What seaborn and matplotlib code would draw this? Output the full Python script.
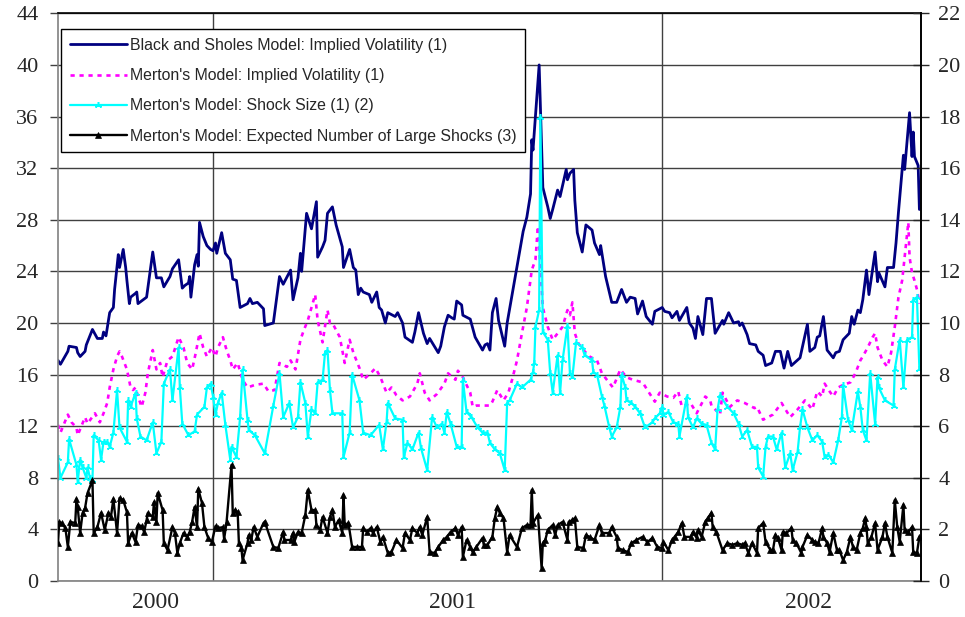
import pandas as pd
import matplotlib
matplotlib.use("Agg")
import matplotlib.pyplot as plt
import matplotlib.dates as mdates
import matplotlib.ticker as mticker
import matplotlib.transforms as mtransforms
import seaborn as sns

START = pd.Timestamp("2000-08-28")

# (days after START, value)
bs_vol = [
    (0, 17.1), (2, 16.8), (8, 17.8), (9, 18.2), (15, 18.1), (16, 17.7), (18, 17.4), (22, 17.8), (23, 18.3),
    (28, 19.5), (32, 18.8), (36, 18.8), (37, 19.3), (39, 19.0), (42, 20.8), (45, 21.2), (46, 22.6), (49, 25.3),
    (50, 24.3), (53, 25.7), (55, 24.3), (56, 23.3), (58, 21.5), (59, 22.0), (63, 22.3), (64, 22.4), (65, 21.5),
    (72, 22.0), (77, 25.5), (80, 23.5), (84, 23.5), (86, 22.8), (91, 23.6), (93, 24.2), (98, 24.9), (101, 22.7),
    (103, 22.9), (106, 23.1), (107, 23.6), (108, 22.0), (111, 24.5), (113, 25.3), (114, 24.4), (115, 27.8),
    (118, 26.7), (121, 26.0), (124, 25.7), (126, 25.6), (128, 26.2), (129, 25.4), (133, 27.0), (136, 25.4),
    (140, 24.9), (142, 23.4), (145, 23.3), (148, 21.2), (154, 21.5), (156, 21.9), (158, 21.5), (162, 21.6),
    (167, 21.1), (168, 19.8), (175, 20.0), (180, 23.6), (183, 23.0), (189, 24.1), (191, 21.8), (195, 23.5),
    (197, 25.4), (198, 24.0), (202, 28.5), (206, 27.3), (210, 29.4), (211, 25.1), (215, 25.9), (217, 26.4),
    (219, 28.5), (223, 29.0), (226, 27.6), (231, 25.9), (232, 24.3), (237, 25.7), (240, 24.3), (242, 24.1),
    (244, 22.2), (246, 22.7), (248, 22.4), (253, 22.2), (255, 21.6), (259, 22.4), (261, 21.2), (263, 21.0),
    (266, 20.0), (268, 20.8), (274, 20.5), (276, 20.8), (280, 20.0), (282, 18.9), (288, 18.5), (290, 19.3),
    (293, 20.8), (297, 19.2), (300, 18.4), (302, 18.8), (309, 17.7), (311, 18.2), (314, 19.7), (317, 20.6),
    (320, 20.4), (322, 20.3), (324, 21.7), (328, 21.4), (329, 20.6), (335, 20.3), (339, 18.9), (345, 17.9),
    (347, 18.3), (349, 18.4), (351, 17.9), (353, 20.8), (356, 21.9), (358, 20.2), (361, 19.0), (363, 18.2),
    (365, 20.0), (371, 23.3), (374, 24.9), (378, 27.1), (381, 28.2), (384, 30.0), (385, 34.2), (386, 33.4),
    (391, 40.0), (394, 30.5), (398, 29.0), (400, 28.1), (402, 28.8), (406, 30.3), (408, 29.8), (413, 31.9),
    (414, 31.1), (416, 31.6), (419, 31.9), (420, 29.5), (422, 27.0), (426, 25.5), (429, 27.6), (434, 27.2),
    (436, 26.2), (440, 25.3), (441, 26.0), (445, 23.6), (450, 21.6), (454, 21.6), (458, 22.6), (462, 21.6),
    (465, 22.0), (469, 21.9), (471, 20.7), (475, 21.7), (478, 20.5), (483, 19.9), (485, 20.9), (491, 21.2),
    (493, 20.9), (497, 20.8), (499, 20.4), (503, 20.9), (505, 20.2), (511, 21.2), (513, 20.0), (516, 19.6),
    (518, 18.8), (520, 20.5), (524, 19.1), (527, 21.9), (531, 21.9), (534, 19.2), (540, 20.2), (541, 19.9),
    (545, 20.8), (549, 20.0), (553, 20.1), (554, 19.8), (556, 20.0), (560, 19.1), (562, 18.4), (567, 18.3),
    (569, 17.8), (573, 17.5), (575, 16.7), (580, 16.9), (583, 17.8), (587, 17.8), (590, 16.5), (593, 17.8),
    (596, 16.7), (603, 17.3), (609, 19.9), (611, 17.8), (615, 18.1), (617, 18.9), (619, 19.0), (622, 20.5),
    (625, 17.9), (630, 17.3), (632, 17.7), (635, 17.8), (638, 18.7), (643, 19.2), (645, 20.5), (647, 19.9),
    (650, 21.0), (652, 20.8), (654, 21.8), (657, 24.1), (659, 22.2), (664, 25.5), (666, 23.2), (667, 23.9),
    (672, 22.8), (674, 24.3), (679, 24.3), (681, 26.2), (683, 28.6), (687, 33.0), (688, 31.9), (692, 36.3),
    (694, 32.9), (695, 34.8), (696, 32.9), (699, 32.2), (700, 28.8),
]

merton_vol = [
    (0, 12.1), (2, 11.5), (8, 12.9), (11, 12.3), (15, 11.9), (16, 11.3), (22, 12.7), (24, 12.2), (30, 13.0),
    (34, 12.3), (37, 13.0), (40, 13.8), (42, 15.0), (45, 16.4), (48, 17.4), (50, 17.8), (52, 17.4), (56, 16.4),
    (59, 15.0), (61, 14.8), (63, 15.0), (65, 14.3), (68, 13.5), (71, 14.6), (73, 16.1), (77, 17.9), (80, 16.4),
    (83, 16.9), (85, 15.8), (89, 17.1), (93, 17.4), (98, 18.9), (102, 18.1), (105, 16.9), (109, 16.4),
    (112, 17.7), (115, 19.2), (118, 18.1), (121, 17.4), (125, 18.1), (128, 17.4), (130, 18.1), (134, 18.9),
    (137, 17.9), (140, 17.1), (142, 16.4), (146, 16.9), (150, 15.6), (154, 15.0), (160, 15.2), (167, 15.3),
    (171, 14.7), (176, 14.8), (180, 16.9), (186, 16.6), (189, 17.1), (193, 16.4), (197, 18.7), (200, 19.5),
    (203, 20.2), (209, 22.2), (211, 20.2), (215, 18.5), (219, 21.0), (221, 20.0), (223, 20.0), (229, 18.9),
    (233, 16.9), (237, 18.7), (240, 17.7), (245, 16.5), (248, 15.6), (254, 16.1), (258, 16.5), (262, 15.8),
    (267, 14.6), (271, 15.0), (275, 14.4), (280, 14.0), (286, 14.3), (292, 15.3), (294, 16.1), (298, 14.6),
    (302, 14.0), (308, 14.5), (314, 15.3), (317, 16.1), (323, 15.6), (325, 16.3), (329, 15.8), (335, 14.6),
    (337, 13.5), (340, 13.6), (345, 13.6), (351, 13.6), (353, 13.9), (357, 14.8), (362, 14.0), (366, 14.6),
    (369, 15.6), (373, 17.1), (377, 19.2), (381, 21.2), (385, 24.1), (388, 24.9), (390, 27.5), (394, 21.2),
    (398, 19.7), (402, 18.7), (406, 19.2), (410, 19.7), (414, 21.0), (416, 20.6), (418, 21.6), (420, 19.2),
    (423, 18.4), (427, 17.9), (432, 17.4), (438, 17.1), (442, 16.1), (446, 15.6), (451, 15.0), (457, 16.4),
    (462, 15.8), (467, 15.6), (475, 15.4), (479, 14.8), (485, 13.9), (489, 14.6), (495, 14.3), (500, 14.2),
    (504, 14.7), (507, 13.5), (514, 13.8), (519, 13.0), (526, 14.3), (530, 14.0), (531, 13.6), (538, 12.9),
    (540, 14.6), (546, 13.5), (552, 14.0), (558, 13.8), (566, 13.4), (568, 13.5), (573, 12.5), (581, 12.9),
    (588, 13.8), (595, 12.7), (601, 13.3), (607, 14.0), (613, 13.3), (617, 14.7), (621, 14.3), (623, 15.3),
    (627, 14.7), (630, 14.3), (634, 15.0), (638, 15.2), (644, 15.4), (648, 16.1), (652, 17.1), (654, 17.4),
    (658, 18.1), (662, 18.9), (664, 19.2), (666, 18.1), (670, 17.1), (674, 16.6), (677, 17.7), (680, 19.7),
    (683, 22.0), (686, 23.3), (688, 25.1), (691, 27.8), (692, 25.1), (694, 23.9), (696, 23.3), (698, 22.6),
    (700, 21.5),
]

shock_size = [
    (0, 9.5), (2, 8.0), (8, 9.2), (9, 11.0), (15, 9.0), (16, 7.7), (18, 9.4), (20, 8.8), (23, 8.0), (24, 8.8),
    (26, 8.0), (28, 7.8), (29, 11.3), (33, 10.9), (35, 9.4), (37, 10.8), (40, 10.8), (42, 10.4), (45, 11.5),
    (48, 14.8), (50, 11.9), (56, 10.8), (57, 14.0), (59, 13.5), (63, 14.6), (64, 12.6), (67, 11.2), (72, 10.9),
    (77, 12.3), (80, 9.9), (84, 10.8), (86, 15.3), (91, 16.4), (93, 14.0), (98, 18.1), (99, 15.0), (101, 12.2),
    (106, 11.3), (111, 11.6), (113, 12.9), (119, 13.5), (121, 15.0), (124, 15.3), (126, 14.3), (128, 12.9),
    (130, 13.8), (133, 14.6), (136, 12.1), (140, 9.4), (141, 10.4), (145, 9.6), (148, 12.7), (150, 16.4),
    (154, 12.5), (155, 11.7), (160, 11.3), (168, 9.9), (175, 13.6), (180, 16.1), (183, 12.7), (188, 13.8),
    (191, 11.9), (195, 12.7), (197, 15.4), (201, 13.8), (203, 11.2), (206, 13.3), (209, 13.0), (211, 15.4),
    (215, 15.6), (217, 17.7), (219, 17.9), (221, 14.8), (223, 13.0), (231, 13.0), (232, 9.6), (237, 11.5),
    (239, 16.0), (245, 14.0), (248, 11.5), (254, 11.3), (261, 12.1), (264, 10.2), (267, 12.3), (268, 13.8),
    (274, 12.6), (280, 12.5), (281, 9.6), (284, 10.7), (288, 10.2), (293, 11.5), (295, 10.3), (300, 8.6),
    (304, 12.7), (308, 11.9), (312, 12.2), (314, 11.5), (316, 13.1), (319, 12.2), (324, 10.4), (328, 10.4),
    (329, 15.6), (332, 13.1), (336, 12.7), (341, 11.9), (345, 11.5), (349, 11.5), (351, 10.7), (355, 10.2),
    (359, 9.9), (363, 8.6), (365, 13.8), (367, 14.0), (373, 15.3), (377, 15.0), (384, 15.6), (386, 16.2),
    (387, 16.9), (388, 19.7), (391, 21.0), (392, 36.0), (394, 19.3), (398, 18.7), (400, 16.1), (402, 14.6),
    (406, 17.5), (408, 14.6), (410, 17.1), (414, 19.8), (416, 16.1), (418, 15.8), (421, 18.5), (426, 18.1),
    (428, 17.5), (434, 17.1), (435, 16.2), (438, 16.0), (442, 14.3), (444, 13.6), (448, 11.9), (450, 11.2),
    (454, 11.9), (457, 13.5), (458, 16.0), (461, 15.0), (462, 14.0), (466, 13.8), (469, 13.5), (473, 13.0),
    (477, 11.9), (483, 12.3), (485, 12.6), (489, 13.0), (491, 13.5), (492, 12.9), (496, 13.1), (500, 12.3),
    (504, 12.2), (505, 11.2), (511, 14.3), (512, 12.7), (516, 11.9), (519, 12.6), (523, 12.2), (527, 12.1),
    (531, 10.7), (534, 10.2), (536, 13.3), (538, 14.4), (544, 13.5), (549, 13.0), (553, 12.2), (556, 11.2),
    (560, 11.7), (564, 10.4), (568, 10.4), (569, 8.8), (573, 8.1), (575, 10.4), (577, 11.2), (581, 11.2),
    (584, 10.2), (588, 11.5), (591, 8.8), (595, 9.9), (597, 8.6), (601, 10.0), (603, 11.9), (605, 13.3),
    (609, 11.9), (613, 10.9), (617, 11.3), (621, 10.8), (623, 9.6), (626, 9.8), (630, 9.2), (634, 10.9),
    (637, 12.7), (638, 15.2), (642, 12.5), (645, 11.7), (650, 14.7), (652, 13.5), (654, 11.7), (657, 10.9),
    (660, 16.1), (664, 12.2), (666, 15.8), (667, 15.0), (672, 14.0), (679, 13.6), (680, 16.4), (684, 18.7),
    (687, 15.0), (690, 18.7), (694, 18.9), (695, 21.8), (698, 22.0), (700, 16.4),
]

# right-hand scale
n_shocks = [
    (0, 1.47), (1, 2.29), (3, 2.25), (6, 2.05), (8, 1.32), (10, 2.29), (14, 2.25), (15, 3.18), (16, 2.87),
    (18, 1.86), (20, 2.64), (22, 2.83), (24, 3.41), (28, 3.91), (29, 1.86), (32, 2.09), (35, 2.64), (38, 1.98),
    (41, 2.64), (43, 2.48), (45, 3.18), (48, 1.86), (50, 3.22), (53, 3.14), (56, 2.67), (57, 1.47), (60, 1.86),
    (63, 1.51), (65, 2.17), (68, 2.13), (70, 1.90), (72, 2.36), (73, 2.64), (77, 2.48), (78, 3.06), (80, 2.29),
    (81, 3.41), (85, 2.75), (86, 1.47), (89, 1.20), (93, 2.09), (95, 1.86), (97, 1.09), (99, 1.47), (102, 1.86),
    (105, 1.71), (107, 1.90), (109, 2.29), (111, 2.87), (113, 2.09), (114, 3.57), (117, 3.02), (119, 2.09),
    (122, 1.67), (125, 1.51), (128, 2.13), (130, 2.05), (134, 2.09), (135, 1.63), (137, 2.29), (141, 4.50),
    (142, 2.64), (144, 2.75), (146, 2.67), (147, 1.47), (149, 1.28), (150, 0.81), (154, 1.47), (155, 1.78),
    (157, 1.59), (159, 2.09), (162, 1.71), (167, 2.25), (168, 2.29), (175, 1.32), (179, 1.28), (183, 1.90),
    (184, 1.59), (189, 1.59), (191, 1.86), (192, 1.51), (195, 1.90), (198, 1.86), (201, 2.56), (203, 3.53),
    (206, 2.75), (209, 2.75), (210, 2.17), (213, 1.98), (215, 2.48), (219, 1.86), (221, 2.48), (223, 2.75),
    (225, 2.09), (228, 2.36), (231, 1.86), (232, 3.33), (233, 2.17), (236, 2.25), (239, 1.32), (243, 1.32),
    (247, 1.32), (248, 2.05), (251, 1.90), (254, 2.05), (256, 1.86), (259, 2.09), (262, 1.51), (264, 1.71),
    (268, 1.09), (271, 1.12), (275, 1.59), (280, 1.28), (282, 1.86), (286, 1.59), (288, 2.05), (292, 1.86),
    (294, 2.09), (296, 1.78), (300, 2.48), (302, 1.12), (306, 1.09), (309, 1.32), (313, 1.59), (316, 1.71),
    (319, 1.90), (323, 2.05), (325, 1.78), (328, 2.09), (329, 0.93), (332, 1.59), (335, 1.32), (337, 1.12),
    (340, 1.32), (345, 1.67), (346, 1.40), (349, 1.40), (353, 1.71), (355, 2.44), (357, 2.87), (359, 2.64),
    (362, 2.44), (365, 1.12), (367, 1.78), (373, 1.32), (377, 2.05), (381, 2.17), (384, 2.17), (385, 3.53),
    (386, 2.25), (390, 2.56), (393, 0.50), (394, 1.47), (396, 1.59), (398, 1.98), (402, 2.17), (404, 1.78),
    (406, 2.17), (410, 2.29), (414, 1.59), (415, 2.29), (418, 2.36), (420, 2.44), (422, 1.32), (427, 1.28),
    (429, 1.78), (432, 1.71), (436, 1.59), (440, 2.17), (442, 1.86), (448, 1.86), (450, 2.09), (454, 1.71),
    (455, 1.28), (459, 1.20), (463, 1.12), (466, 1.47), (470, 1.59), (475, 1.71), (479, 1.51), (483, 1.67),
    (487, 1.32), (491, 1.28), (492, 1.51), (496, 1.20), (499, 1.59), (501, 1.71), (504, 1.90), (507, 2.25),
    (509, 1.71), (514, 1.71), (516, 1.90), (519, 1.67), (520, 1.98), (523, 1.71), (526, 2.29), (528, 2.44),
    (531, 2.64), (532, 2.09), (535, 1.90), (540, 1.20), (544, 1.47), (548, 1.40), (552, 1.47), (556, 1.40),
    (558, 1.47), (561, 1.09), (564, 1.47), (568, 1.09), (569, 2.05), (573, 2.25), (575, 1.51), (579, 1.20),
    (581, 1.20), (583, 1.78), (585, 1.67), (588, 1.20), (589, 1.90), (592, 1.86), (596, 2.05), (597, 1.59),
    (600, 1.47), (604, 1.09), (605, 1.32), (609, 1.78), (613, 1.59), (615, 1.51), (618, 1.47), (621, 2.05),
    (622, 1.71), (625, 1.47), (627, 1.12), (630, 1.86), (633, 1.20), (635, 1.20), (638, 0.81), (641, 1.12),
    (644, 1.71), (646, 1.32), (649, 1.20), (652, 1.86), (654, 2.05), (656, 2.44), (657, 2.09), (658, 1.47),
    (661, 1.71), (664, 2.25), (666, 1.20), (670, 1.71), (672, 2.25), (674, 1.71), (678, 1.09), (680, 3.14),
    (682, 2.09), (684, 1.51), (687, 2.95), (688, 1.98), (691, 1.90), (694, 2.09), (695, 1.12), (698, 1.09),
    (700, 1.71),
]

LABELS = [
    "Black and Sholes Model: Implied Volatility (1)",
    "Merton's Model: Implied Volatility (1)",
    "Merton's Model: Shock Size (1) (2)",
    "Merton's Model: Expected Number of Large Shocks (3)",
]
YEARS = ["2000", "2001", "2002"]
YEAR_LABEL_DATES = ["2000-11-15", "2001-07-15", "2002-04-30"]


def to_frame(pairs):
    df = pd.DataFrame(pairs, columns=["day", "value"])
    df["date"] = START + pd.to_timedelta(df["day"], unit="D")
    return df


sns.set_style("white")
plt.rcParams["font.family"] = ["Liberation Sans", "DejaVu Sans"]
SERIF = "Liberation Serif"

fig = plt.figure(figsize=(9.65, 6.17), dpi=100)
ax = fig.add_axes([0.0601, 0.0583, 0.8943, 0.9201])
ax2 = ax.twinx()

sns.lineplot(data=to_frame(bs_vol), x="date", y="value", ax=ax, color="#000080",
             linewidth=2.0, errorbar=None, legend=False, label=LABELS[0])
sns.lineplot(data=to_frame(merton_vol), x="date", y="value", ax=ax, color="#FF00FF",
             linewidth=1.9, linestyle=(0, (1.6, 1.8)), errorbar=None, legend=False, label=LABELS[1])
sns.lineplot(data=to_frame(shock_size), x="date", y="value", ax=ax, color="#00FFFF",
             linewidth=1.6, marker=(3, 2, 0), markersize=5, markeredgecolor="#00FFFF",
             markeredgewidth=1.1, errorbar=None, legend=False, label=LABELS[2])
sns.lineplot(data=to_frame(n_shocks), x="date", y="value", ax=ax2, color="black",
             linewidth=1.7, marker="^", markersize=4.5, markeredgecolor="black",
             markerfacecolor="black", markeredgewidth=0.5, errorbar=None, legend=False, label=LABELS[3])

# axes ranges / ticks
ax.set_xlim(START, START + pd.Timedelta(days=701.3))
ax.set_ylim(0, 44)
ax.set_yticks(range(0, 45, 4))
ax2.set_ylim(0, 22)
ax2.set_yticks(range(0, 23, 2))
ax.set_xlabel("")
ax.set_ylabel("")
ax2.set_ylabel("")

ax.xaxis.set_major_locator(mdates.YearLocator())
ax.xaxis.set_minor_locator(mdates.MonthLocator())
ax.xaxis.set_major_formatter(mticker.NullFormatter())
ax.xaxis.set_minor_formatter(mticker.NullFormatter())
ax.tick_params(axis="x", which="both", direction="in", length=5, width=1, color="#404040")
ax.tick_params(axis="y", direction="out", length=6, width=1, pad=8, labelsize=16, color="#404040")
ax2.tick_params(axis="y", direction="inout", length=11, width=1, pad=7, labelsize=16)
for lab in ax.get_yticklabels() + ax2.get_yticklabels():
    lab.set_fontfamily(SERIF)

ax.grid(axis="y", color="#404040", linewidth=1)
ax.grid(axis="x", which="major", color="#404040", linewidth=1)
ax.set_axisbelow(True)

for name, sp in ax.spines.items():
    sp.set_visible(True)
    sp.set_linewidth(1.2)
    sp.set_color("#808080" if name in ("left", "bottom") else "black")
for name, sp in ax2.spines.items():
    sp.set_visible(name == "right")
ax2.spines["right"].set_color("black")
ax2.spines["right"].set_linewidth(1.2)

# year labels under the axis
trans = mtransforms.blended_transform_factory(ax.transData, ax.transAxes)
for year, d in zip(YEARS, YEAR_LABEL_DATES):
    ax.text(pd.Timestamp(d), -0.037, year, transform=trans, ha="center", va="center",
            fontsize=17, family=SERIF)

# single legend for both axes
h1, l1 = ax.get_legend_handles_labels()
h2, l2 = ax2.get_legend_handles_labels()
leg = ax2.legend(h1 + h2, l1 + l2, loc="upper left",
                 bbox_to_anchor=(61 / 965, 1 - 29 / 617), bbox_transform=fig.transFigure,
                 frameon=True, fancybox=False, framealpha=1, edgecolor="black",
                 fontsize=11.4, handlelength=3.6, handletextpad=0.2,
                 labelspacing=0.97, borderpad=0.55, borderaxespad=0)
leg.get_frame().set_linewidth(1.0)

fig.savefig("out.png", dpi=100)
plt.close(fig)
